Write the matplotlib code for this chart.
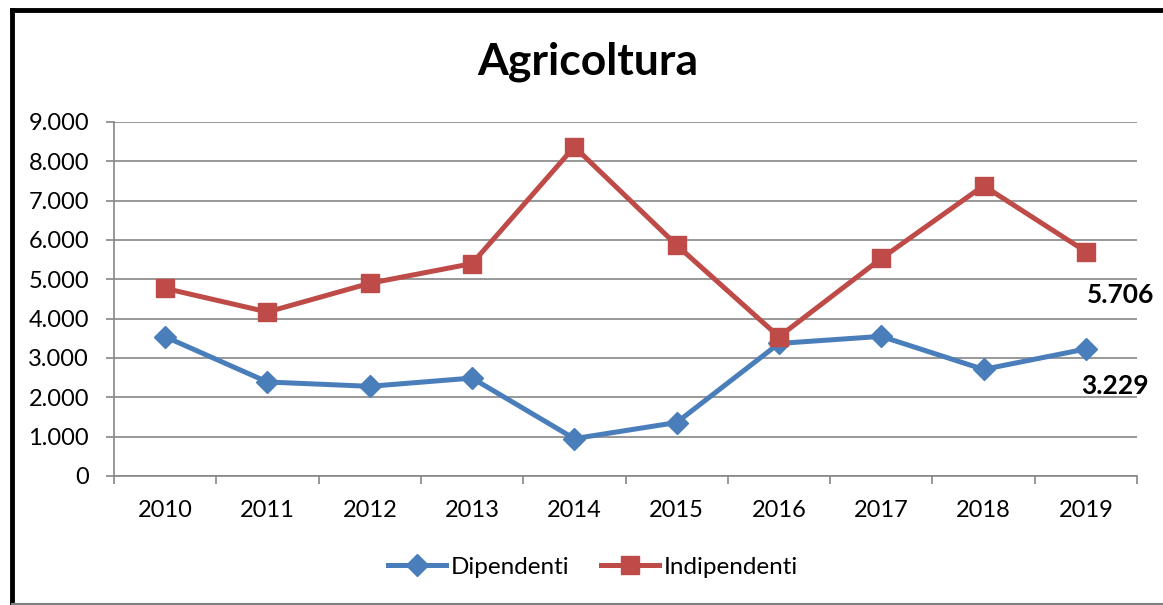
import matplotlib
matplotlib.use("Agg")
import matplotlib.pyplot as plt
from matplotlib.lines import Line2D
from matplotlib.ticker import FuncFormatter, FixedLocator

plt.rcParams['font.family'] = ['Lato', 'DejaVu Sans']

years = ['2010', '2011', '2012', '2013', '2014', '2015', '2016', '2017', '2018', '2019']
dipendenti = [3540, 2390, 2280, 2490, 950, 1360, 3370, 3550, 2710, 3229]
indipendenti = [4770, 4170, 4900, 5400, 8370, 5870, 3540, 5530, 7380, 5706]
title = 'Agricoltura'
series_names = ['Dipendenti', 'Indipendenti']

BLUE = '#4A7EBB'
RED = '#BE4B48'
GRID = '#868686'

W, H = 1163, 605
fig = plt.figure(figsize=(W / 100, H / 100), dpi=100)
ax = fig.add_axes([114 / W, 1 - 476 / H, (1137 - 114) / W, (476 - 122) / H])

x = list(range(len(years)))
l1, = ax.plot(x, dipendenti, color=BLUE, lw=3.6, marker='D', ms=11,
              label=series_names[0], solid_joinstyle='round', zorder=3)
l2, = ax.plot(x, indipendenti, color=RED, lw=3.6, marker='s', ms=13,
              label=series_names[1], solid_joinstyle='miter', zorder=4)

ax.set_xlim(-0.5, len(years) - 0.5)
ax.set_ylim(0, 9000)
ax.set_yticks(range(0, 9001, 1000))
ax.yaxis.set_major_formatter(FuncFormatter(lambda v, p: f"{int(v):,}".replace(",", ".")))
ax.grid(axis='y', color=GRID, lw=1.2)
ax.set_axisbelow(True)

ax.set_xticks(x)
ax.set_xticklabels(years)
ax.xaxis.set_minor_locator(FixedLocator([i - 0.5 for i in range(len(years) + 1)]))
ax.tick_params(axis='x', which='major', length=0, pad=17, labelsize=17)
ax.tick_params(axis='x', which='minor', length=6, width=1.2, color=GRID)
ax.tick_params(axis='y', length=6, width=1.2, color=GRID, pad=12, labelsize=17)

for s in ['top', 'right']:
    ax.spines[s].set_visible(False)
for s in ['left', 'bottom']:
    ax.spines[s].set_color(GRID)
    ax.spines[s].set_linewidth(1.2)

# data labels for last points
ax.annotate(f"{indipendenti[-1]:,}".replace(",", "."), (x[-1], indipendenti[-1]),
            xytext=(25, -31), textcoords='offset points', ha='center', va='center',
            fontsize=19, fontweight='bold')
ax.annotate(f"{dipendenti[-1]:,}".replace(",", "."), (x[-1], dipendenti[-1]),
            xytext=(21, -27), textcoords='offset points', ha='center', va='center',
            fontsize=19, fontweight='bold')

fig.text(588 / W, 1 - 62 / H, title, ha='center', va='center', fontsize=32, fontweight='bold')

fig.legend(handles=[l1, l2], loc='center', bbox_to_anchor=(593 / W, 1 - 567 / H), ncol=2,
           frameon=False, fontsize=17.5, handlelength=2.4, handletextpad=0.2, columnspacing=1.3)

# chart border
fig.add_artist(Line2D([11.5 / W, 1], [1 - 9.5 / H] * 2, color='black', lw=3.5, transform=fig.transFigure))
fig.add_artist(Line2D([11.5 / W] * 2, [0, 1 - 9.5 / H], color='black', lw=3.5, transform=fig.transFigure,
                      solid_capstyle='projecting'))
fig.add_artist(Line2D([12 / W, 1], [1 - 603.5 / H] * 2, color='#7f7f7f', lw=1.5, transform=fig.transFigure))

fig.savefig('out.png', dpi=100)
